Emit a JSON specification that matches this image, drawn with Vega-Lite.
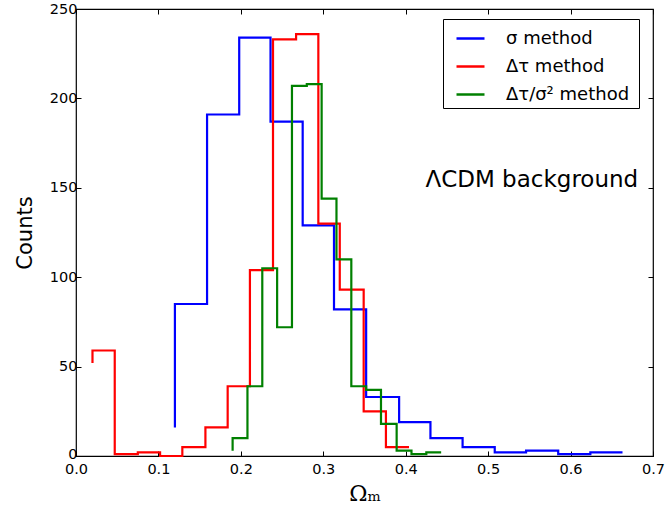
{
  "$schema": "https://vega.github.io/schema/vega-lite/v6.json",
  "autosize": "none",
  "width": 577,
  "height": 447,
  "padding": {"left": 76, "top": 9, "right": 13, "bottom": 58},
  "background": "white",
  "config": {
    "view": {"stroke": "black", "strokeWidth": 1.2},
    "font": "DejaVu Sans",
    "axis": {"grid": false, "domain": false, "tickColor": "black", "labelColor": "black", "titleColor": "black", "labelFont": "DejaVu Sans", "labelFontSize": 14.5, "tickSize": -5, "tickWidth": 1, "labelFlush": false}
  },
  "layer": [
    {
      "data": {"values": [
        {"method": "σ method", "omega": 0.120, "count": 16},
        {"method": "σ method", "omega": 0.159, "count": 85},
        {"method": "σ method", "omega": 0.198, "count": 191},
        {"method": "σ method", "omega": 0.236, "count": 234},
        {"method": "σ method", "omega": 0.275, "count": 187},
        {"method": "σ method", "omega": 0.313, "count": 129},
        {"method": "σ method", "omega": 0.352, "count": 82},
        {"method": "σ method", "omega": 0.392, "count": 33},
        {"method": "σ method", "omega": 0.430, "count": 19},
        {"method": "σ method", "omega": 0.469, "count": 10},
        {"method": "σ method", "omega": 0.508, "count": 5},
        {"method": "σ method", "omega": 0.546, "count": 2},
        {"method": "σ method", "omega": 0.585, "count": 3},
        {"method": "σ method", "omega": 0.624, "count": 1},
        {"method": "σ method", "omega": 0.663, "count": 2},
        {"method": "Δτ method", "omega": 0.020, "count": 52},
        {"method": "Δτ method", "omega": 0.047, "count": 59},
        {"method": "Δτ method", "omega": 0.075, "count": 1},
        {"method": "Δτ method", "omega": 0.102, "count": 2},
        {"method": "Δτ method", "omega": 0.129, "count": 0},
        {"method": "Δτ method", "omega": 0.157, "count": 5},
        {"method": "Δτ method", "omega": 0.184, "count": 16},
        {"method": "Δτ method", "omega": 0.211, "count": 39},
        {"method": "Δτ method", "omega": 0.239, "count": 104},
        {"method": "Δτ method", "omega": 0.267, "count": 233},
        {"method": "Δτ method", "omega": 0.294, "count": 236},
        {"method": "Δτ method", "omega": 0.320, "count": 130},
        {"method": "Δτ method", "omega": 0.349, "count": 93},
        {"method": "Δτ method", "omega": 0.376, "count": 25},
        {"method": "Δτ method", "omega": 0.404, "count": 5},
        {"method": "Δτ/σ²  method", "omega": 0.190, "count": 3},
        {"method": "Δτ/σ²  method", "omega": 0.208, "count": 10},
        {"method": "Δτ/σ²  method", "omega": 0.226, "count": 39},
        {"method": "Δτ/σ²  method", "omega": 0.244, "count": 105},
        {"method": "Δτ/σ²  method", "omega": 0.262, "count": 72},
        {"method": "Δτ/σ²  method", "omega": 0.280, "count": 207},
        {"method": "Δτ/σ²  method", "omega": 0.298, "count": 208},
        {"method": "Δτ/σ²  method", "omega": 0.316, "count": 144},
        {"method": "Δτ/σ²  method", "omega": 0.334, "count": 110},
        {"method": "Δτ/σ²  method", "omega": 0.352, "count": 39},
        {"method": "Δτ/σ²  method", "omega": 0.370, "count": 37},
        {"method": "Δτ/σ²  method", "omega": 0.389, "count": 18},
        {"method": "Δτ/σ²  method", "omega": 0.407, "count": 3},
        {"method": "Δτ/σ²  method", "omega": 0.425, "count": 1},
        {"method": "Δτ/σ²  method", "omega": 0.443, "count": 2}
      ]},
      "mark": {"type": "line", "interpolate": "step-before", "strokeWidth": 2.2},
      "encoding": {
        "x": {"field": "omega", "type": "quantitative",
          "scale": {"domain": [0, 0.7], "nice": false, "zero": false},
          "axis": {"orient": "bottom", "values": [0, 0.1, 0.2, 0.3, 0.4, 0.5, 0.6, 0.7], "format": ".1f", "labelPadding": 11, "title": "Ωₘ", "titleFont": "DejaVu Serif", "titleFontSize": 22, "titleFontWeight": "normal", "titlePadding": 8}},
        "y": {"field": "count", "type": "quantitative",
          "scale": {"domain": [0, 250], "nice": false},
          "axis": {"orient": "left", "values": [0, 50, 100, 150, 200, 250], "labelPadding": 4, "labelOffset": {"condition": {"test": "datum.value === 0", "value": -2}, "value": 0}, "title": "Counts", "titleFontSize": 21, "titleFontWeight": "normal", "titlePadding": 14}},
        "color": {"field": "method", "type": "nominal",
          "scale": {"domain": ["σ method", "Δτ method", "Δτ/σ²  method"], "range": ["#0000ff", "#ff0000", "#008000"]},
          "legend": {"title": null, "orient": "none", "legendX": 367, "legendY": 10, "symbolType": "stroke", "symbolSize": 784, "symbolStrokeWidth": 2.5, "strokeColor": "black", "fillColor": "white", "padding": 4, "symbolOffset": 8, "labelOffset": 20, "labelFontSize": 18, "labelColor": "black", "labelFont": "DejaVu Sans", "rowPadding": 3}},
        "order": {"field": "omega", "type": "quantitative"}
      }
    },
    {
      "data": {"values": [{"label": "ΛCDM background"}]},
      "mark": {"type": "text", "align": "right", "baseline": "alphabetic", "fontSize": 23, "font": "DejaVu Sans", "color": "black"},
      "encoding": {
        "text": {"field": "label"},
        "x": {"datum": 0.682, "type": "quantitative", "axis": {"orient": "top", "labels": false, "title": null, "values": [0, 0.1, 0.2, 0.3, 0.4, 0.5, 0.6, 0.7]}},
        "y": {"datum": 150.5, "type": "quantitative", "axis": {"orient": "right", "labels": false, "title": null, "values": [0, 50, 100, 150, 200, 250]}}
      }
    }
  ],
  "resolve": {"axis": {"x": "independent", "y": "independent"}}
}
